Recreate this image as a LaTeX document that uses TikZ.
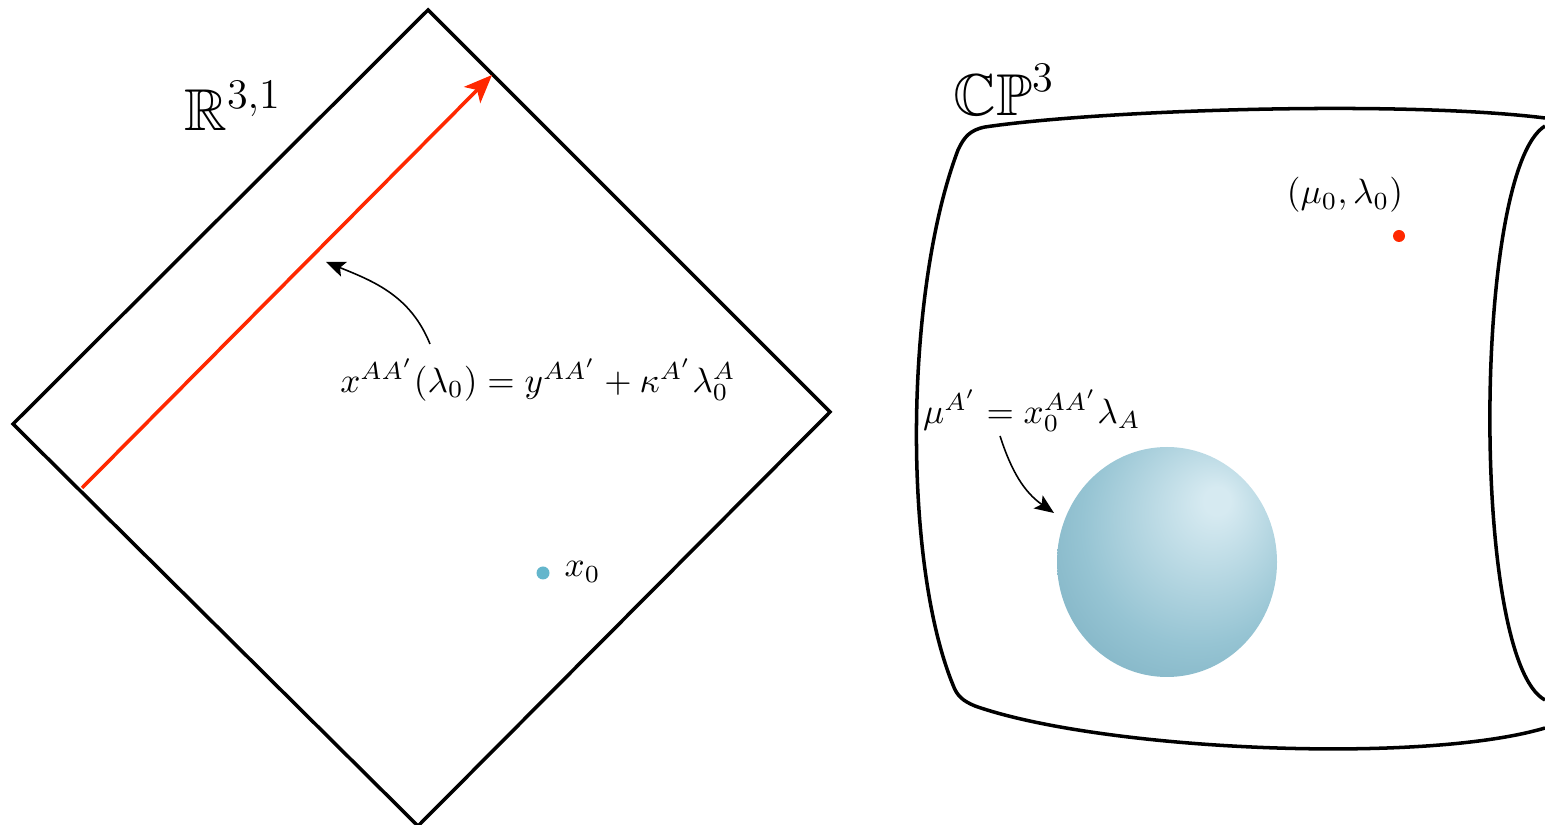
\documentclass[tikz,border=0pt]{standalone}
\usepackage{amssymb}
\usetikzlibrary{arrows.meta}
\definecolor{redarr}{RGB}{255,40,0}
\definecolor{dotcyan}{RGB}{100,182,204}
\definecolor{ballhi}{RGB}{214,234,241}
\definecolor{ballmid}{RGB}{150,196,211}
\definecolor{balllo}{RGB}{104,160,180}
\pgfdeclareradialshading{myball}{\pgfpoint{12bp}{14bp}}{%
  color(0bp)=(ballhi); color(3bp)=(ballhi); color(26bp)=(ballmid); color(50bp)=(balllo); color(60bp)=(balllo)}
\tikzset{
  frame/.style={line width=1pt, line join=miter},
  redarrow/.style={draw=redarr, line width=1pt, -{Stealth[length=8pt,width=6.5pt,inset=2pt]}},
  thinarrow/.style={line width=0.45pt, -{Stealth[length=5.5pt,width=4.5pt,inset=1.2pt]}},
  biglabel/.style={font=\fontsize{16.8}{20}\selectfont, inner sep=0pt},
  formula/.style={inner sep=1pt}
}
\begin{document}
\begin{tikzpicture}[x=0.01cm,y=-0.01cm]
\useasboundingbox (0,0) rectangle (1545,825);
% Minkowski diamond
\coordinate (dt) at (428,10);
\coordinate (dr) at (830,412);
\coordinate (db) at (418,826);
\coordinate (dl) at (13,424);
\draw[frame] (dt) -- (dr) -- (db) -- (dl) -- cycle;
\node[biglabel] (R31) at (233,106) {$\mathbb{R}^{3,1}$};
% light ray
\coordinate (rs) at (82,488);
\coordinate (re) at (492,75);
\draw[redarrow] (rs) -- (re);
\node[formula] (f1) at (538,380) {$x^{AA'}(\lambda_0)=y^{AA'}+\kappa^{A'}\lambda_0^A$};
\coordinate (f1s) at (430,344);
\coordinate (f1e) at (326,262);
\draw[thinarrow] (f1s) to[out=112,in=-22] (f1e);
% point x0
\fill[dotcyan] (543,573) circle (6.5);
\coordinate (x0) at (543,573);
\node[anchor=west, inner sep=0pt] (x0lab) at (564,572) {$x_0$};
% twistor space
\node[biglabel] (CP3) at (1004,90) {$\mathbb{CP}^3$};
\draw[frame, line join=round] (1545,118) .. controls (1400,100) and (1100,110) .. (985,127)
  .. controls (970,130) and (964,137) .. (958,150)
  .. controls (905,290) and (902,560) .. (953,685)
  .. controls (957,696) and (963,701) .. (975,706)
  .. controls (1100,750) and (1420,765) .. (1545,728);
\draw[frame] (1545,126) .. controls (1473,170) and (1470,660) .. (1545,700);
% sphere
\shade[shading=myball] (1167,562) ellipse (110 and 115);
\node[formula] (f2) at (1032,411) {$\mu^{A'}=x_0^{AA'}\lambda_A$};
\coordinate (f2s) at (1000,436);
\coordinate (f2e) at (1054,513);
\draw[thinarrow] (f2s) to[out=-72,in=145] (f2e);
% point (mu0, lambda0)
\fill[redarr] (1399,236) circle (6);
\node[formula] (ml) at (1345,195) {$(\mu_0,\lambda_0)$};
\end{tikzpicture}
\end{document}
